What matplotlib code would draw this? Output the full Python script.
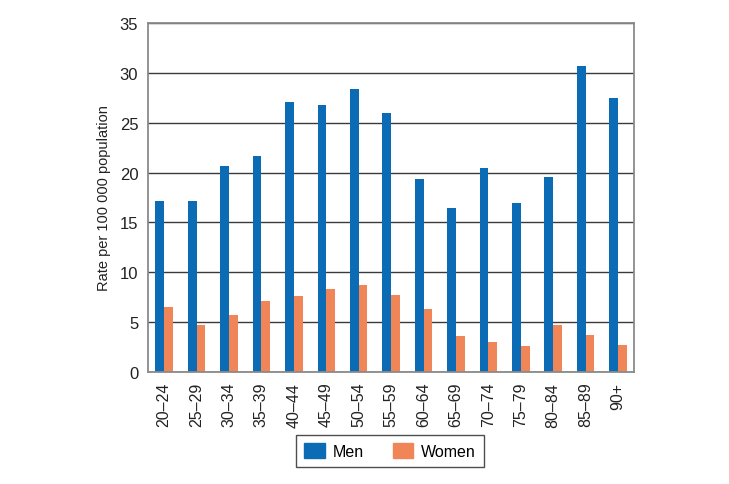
import numpy as np
import matplotlib.pyplot as plt
from matplotlib.patches import Patch

plt.rcParams['font.family'] = ['Liberation Sans Narrow', 'Liberation Sans', 'DejaVu Sans']

ages = ['20–24', '25–29', '30–34', '35–39', '40–44', '45–49', '50–54', '55–59',
        '60–64', '65–69', '70–74', '75–79', '80–84', '85–89', '90+']
men = [17.1, 17.1, 20.7, 21.7, 27.1, 26.8, 28.4, 26.0, 19.4, 16.4, 20.5, 16.9, 19.6, 30.7, 27.5]
women = [6.5, 4.7, 5.7, 7.1, 7.6, 8.3, 8.7, 7.7, 6.3, 3.6, 3.0, 2.6, 4.7, 3.7, 2.7]

c_men = '#0b6cb5'
c_women = '#f08658'

fig = plt.figure(figsize=(7.29, 4.85), dpi=100)
ax = fig.add_axes([0.203, 0.231, 0.667, 0.7195])

x = np.arange(len(ages))
w = 0.27
ax.bar(x - w / 2, men, w, color=c_men, zorder=2)
ax.bar(x + w / 2, women, w, color=c_women, zorder=2)

ax.set_xlim(-0.5, len(ages) - 0.5)
ax.set_ylim(0, 35)
ax.set_yticks(range(0, 36, 5))
ax.set_xticks(x)
ax.set_xticklabels(ages, rotation=90)
ax.tick_params(axis='y', length=0, labelsize=12, pad=7, colors='#222222')
ax.tick_params(axis='x', length=0, labelsize=11.5, pad=7, colors='#222222')

ax.yaxis.grid(True, color='#3a3a3a', linewidth=1.0, zorder=1)
ax.set_axisbelow(True)
for s in ax.spines.values():
    s.set_color('#8a8a8a')
    s.set_linewidth(1.3)

ax.set_ylabel('Rate per 100 000 population', fontsize=10.5, color='#222222', labelpad=6)

handles = [Patch(color=c_men, label='Men'), Patch(color=c_women, label='Women')]
leg = fig.legend(handles=handles, loc='center', bbox_to_anchor=(0.535, 0.068), ncol=2,
                 fontsize=11.5, frameon=True, fancybox=False, edgecolor='#222222',
                 handlelength=1.3, handleheight=1.1, handletextpad=0.5,
                 columnspacing=1.8, borderpad=0.5)
leg.get_frame().set_linewidth(1.0)

fig.savefig('out.png', dpi=100)
